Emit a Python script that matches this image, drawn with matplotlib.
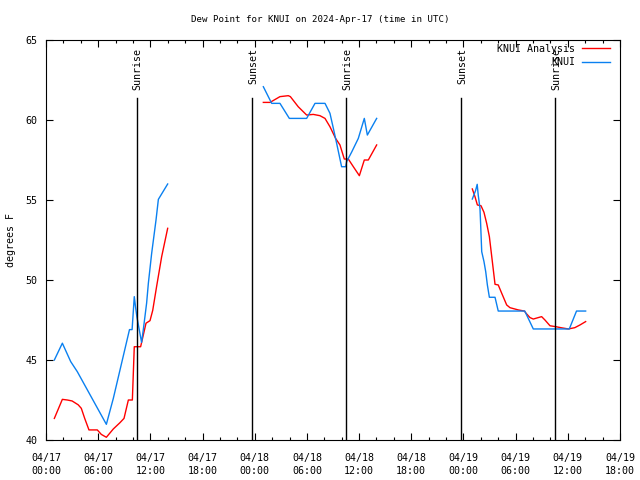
import numpy as np
import matplotlib
matplotlib.use("Agg")
import matplotlib.pyplot as plt
from matplotlib.ticker import MultipleLocator

nan = np.nan

# hours since 2024-04-17 00:00 UTC
blue_hours = [0.96, 1.88, 2.84, 3.6, 6.94, 7.74, 9.6, 9.9, 10.15, 10.3, 10.45, 10.99,
              11.19, 11.57, 11.77, 12.15, 12.65, 12.92, 13.99,
              nan,
              24.99, 25.95, 26.9, 27.98, 29.97, 30.93, 32.08, 32.65, 33.04, 33.42, 33.99,
              34.46, 34.57, 35.15, 35.91, 36.6, 36.95, 38.02,
              nan,
              49.02, 49.4, 49.58, 49.7, 49.9, 49.98, 50.1, 50.36, 50.56, 50.75, 50.98,
              51.63, 52.0, 55.05, 56.03, 60.17, 61.0, 62.05]
blue_dew = [45.0, 46.05, 44.9, 44.27, 40.98, 42.6, 46.9, 46.9, 48.96, 48.3, 47.7, 46.1,
            46.9, 48.56, 49.8, 51.67, 53.75, 55.04, 56.0,
            nan,
            62.08, 61.04, 61.04, 60.1, 60.1, 61.04, 61.04, 60.42, 59.48, 58.54, 57.08,
            57.08, 57.4, 58.0, 58.85, 60.1, 59.06, 60.1,
            nan,
            55.06, 55.6, 55.98, 55.3, 54.48, 53.44, 51.77, 51.15, 50.52, 49.69, 48.92,
            48.92, 48.06, 48.06, 46.94, 46.94, 48.06, 48.06]

red_hours = [0.96, 1.88, 2.45, 3.0, 3.7, 4.06, 4.45, 4.94, 5.9, 6.36, 6.94, 7.74, 8.5,
             8.97, 9.47, 9.93, 10.15, 10.88, 11.5, 11.96, 12.27, 12.72, 13.3, 13.99,
             nan,
             24.99, 25.76, 26.9, 27.86, 28.1, 29.0, 29.97, 30.73, 31.5, 32.08, 32.65,
             33.3, 33.8, 34.3, 34.76, 35.34, 36.03, 36.6, 37.06, 38.02,
             nan,
             49.02, 49.33, 49.6, 50.02, 50.36, 50.67, 50.98, 51.3, 51.63, 52.0, 52.4,
             52.97, 53.35, 54.3, 55.0, 55.2, 55.65, 56.03, 56.6, 56.99, 57.37, 57.95,
             58.64, 59.2, 60.06, 60.8, 61.4, 62.05]
red_dew = [41.35, 42.54, 42.5, 42.44, 42.2, 41.98, 41.35, 40.63, 40.63, 40.35, 40.17,
           40.69, 41.08, 41.35, 42.5, 42.5, 45.83, 45.83, 47.3, 47.46, 48.1, 49.6, 51.46,
           53.23,
           nan,
           61.1, 61.1, 61.46, 61.52, 61.46, 60.83, 60.31, 60.35, 60.27, 60.1, 59.58,
           58.85, 58.44, 57.56, 57.56, 57.08, 56.52, 57.5, 57.5, 58.44,
           nan,
           55.69, 55.2, 54.69, 54.64, 54.23, 53.54, 52.71, 51.25, 49.73, 49.69, 49.17,
           48.44, 48.27, 48.13, 48.06, 47.92, 47.65, 47.56, 47.65, 47.71, 47.5, 47.14,
           47.08, 47.02, 46.94, 47.02, 47.19, 47.4]

event_hours = [10.46, 23.69, 34.5, 47.72, 58.53]
event_names = ["Sunrise", "Sunset", "Sunrise", "Sunset", "Sunrise"]

xtick_hours = [0, 6, 12, 18, 24, 30, 36, 42, 48, 54, 60, 66]
xtick_labels = ["04/17\n00:00", "04/17\n06:00", "04/17\n12:00", "04/17\n18:00",
                "04/18\n00:00", "04/18\n06:00", "04/18\n12:00", "04/18\n18:00",
                "04/19\n00:00", "04/19\n06:00", "04/19\n12:00", "04/19\n18:00"]
ytick_vals = [40, 45, 50, 55, 60, 65]

plt.rcParams['font.family'] = ['DejaVu Sans Mono']
FS = 7.2

fig = plt.figure(figsize=(6.4, 4.8), dpi=100)
ax = fig.add_axes([46/640, 40/480, 574/640, 400/480])

ax.plot(red_hours, red_dew, color='#ff0000', lw=1.0, label='KNUI Analysis')
ax.plot(blue_hours, blue_dew, color='#0a80f0', lw=1.0, label='KNUI')

for h, name in zip(event_hours, event_names):
    ax.plot([h, h], [0, 0.855], color='black', lw=1.0,
            transform=ax.get_xaxis_transform())
    ax.text(h + 0.1, 0.98, name, rotation=90, ha='center', va='top', fontsize=FS,
            transform=ax.get_xaxis_transform())

ax.set_xlim(0, 66)
ax.set_ylim(40, 65)
ax.set_xticks(xtick_hours)
ax.set_xticklabels(xtick_labels, fontsize=FS, linespacing=1.5)
ax.set_yticks(ytick_vals)
ax.set_yticklabels([str(v) for v in ytick_vals], fontsize=FS)
ax.xaxis.set_minor_locator(MultipleLocator(2))
ax.tick_params(which='major', direction='in', length=5, width=0.8,
               top=True, right=True, pad=6)
ax.tick_params(axis='x', which='major', pad=9)
ax.tick_params(which='minor', direction='in', length=2.5, width=0.8, top=True)
for s in ax.spines.values():
    s.set_linewidth(0.8)

ax.set_ylabel('degrees F', fontsize=FS, labelpad=7)
fig.text(0.5, 1 - 19/480, 'Dew Point for KNUI on 2024-Apr-17 (time in UTC)',
         ha='center', va='center', fontsize=6.6)

leg = ax.legend(loc='upper right', bbox_to_anchor=(0.9826, 0.99), frameon=False,
                markerfirst=False, fontsize=FS, borderpad=0, borderaxespad=0,
                handlelength=2.8, handletextpad=0.7, labelspacing=0.35)

fig.savefig('out.png', dpi=100)
